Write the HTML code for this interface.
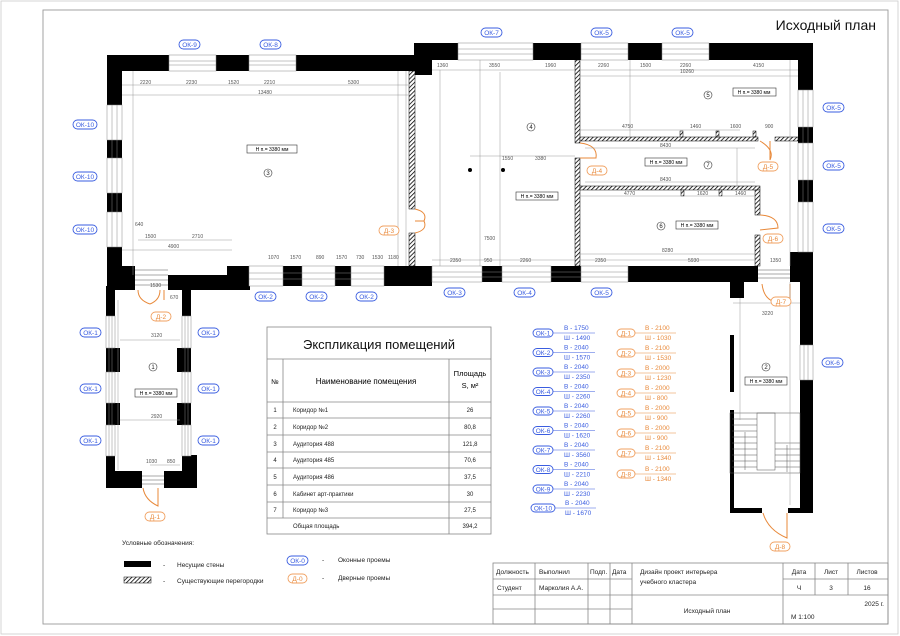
<!DOCTYPE html>
<html><head><meta charset="utf-8"><style>
html,body{margin:0;padding:0;background:#fff}
svg{display:block}
text{font-family:"Liberation Sans","DejaVu Sans",sans-serif}
.d{font-size:5px;fill:#555}
.dl{stroke:#999;stroke-width:.5;fill:none}
.ok{fill:#fff;stroke:#3a5de0;stroke-width:.9}
.okt{fill:#3a5de0;font-size:6.5px}
.dr{fill:#fff;stroke:#f0a060;stroke-width:.9}
.drt{fill:#e8893a;font-size:6.5px}
.w{fill:#fff;stroke:#888;stroke-width:.5}
.hb{fill:#fff;stroke:#333;stroke-width:.5}
.lbl{fill:#fff;stroke:#333;stroke-width:.6}
.door{fill:none;stroke:#e8893a;stroke-width:1}
.t{font-size:6px;fill:#222}
</style></head><body>
<svg width="900" height="636" viewBox="0 0 900 636" xmlns="http://www.w3.org/2000/svg">
<defs>
<pattern id="h" width="3" height="3" patternUnits="userSpaceOnUse" patternTransform="rotate(45)">
<rect width="3" height="3" fill="#fff"/><line x1="0" y1="0" x2="0" y2="3" stroke="#000" stroke-width="1.6"/></pattern>
</defs>
<rect x="1" y="1" width="897" height="633" fill="none" stroke="#ccc" stroke-width="0.8"/>
<rect x="43" y="10" width="845" height="614" fill="none" stroke="#999" stroke-width="0.9"/>
<text x="876" y="30" font-size="14" text-anchor="end" fill="#111">Исходный план</text>

<!-- WALLS -->
<g fill="#000">
<rect x="107" y="55" width="308" height="16"/>
<rect x="107" y="55" width="15" height="235"/>
<rect x="106" y="286" width="9" height="202"/>
<rect x="107" y="266" width="28" height="24"/>
<rect x="168" y="275" width="82" height="15"/>
<rect x="227" y="266" width="205" height="20"/>
<rect x="182" y="286" width="9" height="202"/>
<rect x="106" y="471" width="36" height="17"/>
<rect x="164" y="471" width="33" height="17"/>
<rect x="182" y="455" width="15" height="20"/>
<rect x="414" y="43" width="399" height="17"/>
<rect x="414" y="43" width="18" height="32"/>
<rect x="798" y="43" width="15" height="239"/>
<rect x="400" y="266" width="358" height="16"/>
<rect x="790" y="252" width="23" height="30"/>
<rect x="800" y="282" width="13" height="231"/>
<rect x="730" y="282" width="14" height="16"/>
<rect x="730" y="335" width="4" height="57"/>
<rect x="730" y="410" width="4" height="102"/>
<rect x="730" y="508" width="32" height="5"/>
<rect x="788" y="508" width="25" height="5"/>
<!-- piers in corridor 1 -->
<rect x="115" y="348" width="5" height="24"/><rect x="115" y="403" width="5" height="22"/>
<rect x="177" y="348" width="5" height="24"/><rect x="177" y="403" width="5" height="22"/>
</g>
<!-- WINDOWS -->
<g>
<rect class="w" x="169" y="55" width="47" height="16"/><rect class="w" x="249" y="55" width="47" height="16"/>
<rect class="w" x="107" y="105" width="15" height="35"/><rect class="w" x="107" y="158" width="15" height="35"/><rect class="w" x="107" y="212" width="15" height="35"/>
<rect class="w" x="106" y="316" width="9" height="32"/><rect class="w" x="106" y="372" width="9" height="31"/><rect class="w" x="106" y="425" width="9" height="31"/>
<rect class="w" x="182" y="316" width="9" height="32"/><rect class="w" x="182" y="372" width="9" height="31"/><rect class="w" x="182" y="425" width="9" height="31"/>
<rect class="w" x="249" y="266" width="34" height="20"/><rect class="w" x="302" y="266" width="33" height="20"/><rect class="w" x="351" y="266" width="33" height="20"/>
<rect class="w" x="458" y="43" width="75" height="17"/><rect class="w" x="581" y="43" width="47" height="17"/><rect class="w" x="662" y="43" width="47" height="17"/>
<rect class="w" x="798" y="90" width="15" height="37"/><rect class="w" x="798" y="143" width="15" height="37"/><rect class="w" x="798" y="202" width="15" height="50"/>
<rect class="w" x="432" y="266" width="50" height="16"/><rect class="w" x="502" y="266" width="49" height="16"/><rect class="w" x="581" y="266" width="47" height="16"/>
<rect class="w" x="800" y="345" width="13" height="35"/>
</g>
<g stroke="#888" stroke-width=".5">
<line x1="169" y1="61" x2="216" y2="61"/><line x1="169" y1="65" x2="216" y2="65"/>
<line x1="249" y1="61" x2="296" y2="61"/><line x1="249" y1="65" x2="296" y2="65"/>
<line x1="458" y1="49" x2="533" y2="49"/><line x1="458" y1="54" x2="533" y2="54"/>
<line x1="581" y1="49" x2="628" y2="49"/><line x1="581" y1="54" x2="628" y2="54"/>
<line x1="662" y1="49" x2="709" y2="49"/><line x1="662" y1="54" x2="709" y2="54"/>
<line x1="249" y1="273" x2="384" y2="273"/><line x1="249" y1="279" x2="384" y2="279"/>
<line x1="432" y1="272" x2="628" y2="272"/><line x1="432" y1="277" x2="628" y2="277"/>
<line x1="112" y1="105" x2="112" y2="247"/><line x1="117" y1="105" x2="117" y2="247"/>
<line x1="803" y1="90" x2="803" y2="252"/><line x1="808" y1="90" x2="808" y2="252"/>
<line x1="109" y1="316" x2="109" y2="456"/><line x1="112" y1="316" x2="112" y2="456"/>
<line x1="185" y1="316" x2="185" y2="456"/><line x1="188" y1="316" x2="188" y2="456"/>
<line x1="804" y1="345" x2="804" y2="380"/><line x1="808" y1="345" x2="808" y2="380"/>
</g>
<!-- stair openings -->
<g stroke="#555" stroke-width=".5" fill="none">
<path d="M135 270H168M135 275H168M135 280H168M135 285H168"/>
<path d="M142 476H164M142 480H164M142 484H164"/>
<path d="M758 270H790M758 274H790M758 278H790"/>
<rect x="730" y="413" width="70" height="60"/>
<path d="M732 419H757M732 425H757M732 431H757M732 437H757M732 443H757M732 449H757M732 455H757M732 461H757M732 467H757"/>
<rect x="757" y="413" width="18" height="57"/>
<path d="M775 443H800M775 449H800M775 455H800M775 461H800M775 467H800"/>
<line x1="787" y1="445" x2="787" y2="472"/><line x1="745" y1="432" x2="745" y2="470"/>
</g>
<!-- PARTITIONS hatched -->
<g fill="url(#h)" stroke="#000" stroke-width=".5">
<rect x="409" y="71" width="6" height="138"/><rect x="409" y="233" width="6" height="33"/>
<rect x="575" y="60" width="5" height="83"/><rect x="575" y="158" width="5" height="108"/>
<rect x="580" y="137" width="178" height="4"/><rect x="775" y="137" width="23" height="4"/>
<rect x="580" y="186" width="180" height="4"/>
<rect x="755" y="190" width="5" height="25"/><rect x="755" y="235" width="5" height="31"/>
<rect x="680" y="131" width="3" height="6"/><rect x="716" y="131" width="3" height="6"/><rect x="753" y="131" width="3" height="6"/>
<rect x="681" y="190" width="3" height="6"/><rect x="719" y="190" width="3" height="6"/>
</g>
<!-- DOORS -->
<g class="door">
<path d="M415 209 Q428 212 424 221 Q428 230 415 233 M424 221 L415 221"/>
<path d="M580 143 Q598 145 596 158 L580 158"/>
<path d="M760 141 Q775 150 770 160 M770 160 L770 141"/>
<path d="M760 215 Q778 216 778 228 L760 230"/>
<path d="M762 284 Q764 300 776 302 M776 302 L790 302 L790 284"/>
<path d="M138 290 Q138 300 150 304 M150 304 Q160 300 160 290 M164 290 L164 300"/>
<path d="M143 488 Q145 500 158 506 L158 488"/>
<path d="M763 513 Q768 530 787 538 L787 513"/>
</g>
<!-- DIMENSIONS -->
<g class="dl">
<path d="M122 85H408M122 95H408M133 71V275M138 240H232M122 250H232M406 71V266M398 71V266"/>
<path d="M432 70H575M440 70V266M480 60V266M500 72V266M470 156H575M432 260H575"/>
<path d="M580 70H798M580 76H798M580 130H740M585 148H755M585 182H755M580 196H755M580 254H755M580 260H755M630 60V137M737 148V186M790 60V266"/>
<path d="M733 303H800M740 298V420M790 282V505"/>
<path d="M118 300V470M120 340H180M120 420H180M150 465H180"/>
</g>
<g fill="#000"><circle cx="470" cy="170" r="2"/><circle cx="503" cy="170" r="2"/></g>
<g class="d">
<text x="140" y="84">2220</text><text x="186" y="84">2230</text><text x="228" y="84">1520</text><text x="264" y="84">2210</text><text x="348" y="84">5300</text>
<text x="258" y="94">13480</text><text x="145" y="238">1500</text><text x="192" y="238">2710</text><text x="168" y="248">4900</text><text x="135" y="226">640</text>
<text x="268" y="259">1070</text><text x="290" y="259">1570</text><text x="316" y="259">890</text><text x="336" y="259">1570</text><text x="356" y="259">730</text><text x="372" y="259">1530</text><text x="388" y="259">1180</text>
<text x="437" y="67">1360</text><text x="489" y="67">3550</text><text x="545" y="67">1960</text><text x="502" y="160">1550</text><text x="535" y="160">3380</text><text x="484" y="240">7500</text>
<text x="450" y="262">2350</text><text x="484" y="262">950</text><text x="520" y="262">2260</text>
<text x="598" y="67">2260</text><text x="640" y="67">1500</text><text x="680" y="67">2260</text><text x="753" y="67">4150</text><text x="680" y="73">10260</text>
<text x="622" y="128">4750</text><text x="690" y="128">1460</text><text x="730" y="128">1600</text><text x="765" y="128">900</text>
<text x="660" y="147">8430</text><text x="660" y="181">8430</text><text x="624" y="195">4770</text><text x="697" y="195">1620</text><text x="735" y="195">1460</text>
<text x="662" y="252">8280</text><text x="595" y="262">2350</text><text x="688" y="262">5930</text><text x="770" y="262">1350</text>
<text x="762" y="315">3220</text><text x="151" y="337">3120</text><text x="151" y="418">2920</text><text x="146" y="463">1030</text><text x="167" y="463">850</text>
<text x="150" y="287">1530</text><text x="170" y="299">670</text>
</g>
<!-- ROOM LABELS -->
<g>
<rect class="lbl" x="247" y="145" width="50" height="8"/><text x="272" y="151" font-size="5" text-anchor="middle">Н п.= 3380 мм</text>
<rect class="lbl" x="516" y="192" width="42" height="8"/><text x="537" y="198" font-size="5" text-anchor="middle">Н п.= 3380 мм</text>
<rect class="lbl" x="733" y="88" width="43" height="8"/><text x="754" y="94" font-size="5" text-anchor="middle">Н п.= 3380 мм</text>
<rect class="lbl" x="645" y="158" width="42" height="8"/><text x="666" y="164" font-size="5" text-anchor="middle">Н п.= 3380 мм</text>
<rect class="lbl" x="676" y="221" width="42" height="8"/><text x="697" y="227" font-size="5" text-anchor="middle">Н п.= 3380 мм</text>
<rect class="lbl" x="745" y="377" width="42" height="8"/><text x="766" y="383" font-size="5" text-anchor="middle">Н п.= 3380 мм</text>
<rect class="lbl" x="135" y="389" width="42" height="8"/><text x="156" y="395" font-size="5" text-anchor="middle">Н п.= 3380 мм</text>
</g>
<g fill="#fff" stroke="#333" stroke-width=".6">
<circle cx="268" cy="173" r="4"/><circle cx="531" cy="127" r="4"/><circle cx="708" cy="95" r="4"/><circle cx="708" cy="165" r="4"/><circle cx="661" cy="226" r="4"/><circle cx="766" cy="367" r="4"/><circle cx="153" cy="367" r="4"/>
</g>
<g font-size="6" text-anchor="middle" fill="#222">
<text x="268" y="175">3</text><text x="531" y="129">4</text><text x="708" y="97">5</text><text x="708" y="167">7</text><text x="661" y="228">6</text><text x="766" y="369">2</text><text x="153" y="369">1</text>
</g>
<!-- OK tags -->
<g>
<rect class="ok" x="179" y="40" width="21" height="9" rx="4.5"/><text class="okt" x="189.5" y="47" text-anchor="middle">ОК-9</text>
<rect class="ok" x="260" y="40" width="21" height="9" rx="4.5"/><text class="okt" x="270.5" y="47" text-anchor="middle">ОК-8</text>
<rect class="ok" x="481" y="28" width="21" height="9" rx="4.5"/><text class="okt" x="491.5" y="35" text-anchor="middle">ОК-7</text>
<rect class="ok" x="591" y="28" width="21" height="9" rx="4.5"/><text class="okt" x="601.5" y="35" text-anchor="middle">ОК-5</text>
<rect class="ok" x="672" y="28" width="21" height="9" rx="4.5"/><text class="okt" x="682.5" y="35" text-anchor="middle">ОК-5</text>
<rect class="ok" x="73" y="120" width="24" height="9" rx="4.5"/><text class="okt" x="85" y="127" text-anchor="middle">ОК-10</text>
<rect class="ok" x="73" y="172" width="24" height="9" rx="4.5"/><text class="okt" x="85" y="179" text-anchor="middle">ОК-10</text>
<rect class="ok" x="73" y="225" width="24" height="9" rx="4.5"/><text class="okt" x="85" y="232" text-anchor="middle">ОК-10</text>
<rect class="ok" x="823" y="103" width="21" height="9" rx="4.5"/><text class="okt" x="833.5" y="110" text-anchor="middle">ОК-5</text>
<rect class="ok" x="823" y="161" width="21" height="9" rx="4.5"/><text class="okt" x="833.5" y="168" text-anchor="middle">ОК-5</text>
<rect class="ok" x="823" y="224" width="21" height="9" rx="4.5"/><text class="okt" x="833.5" y="231" text-anchor="middle">ОК-5</text>
<rect class="ok" x="255" y="292" width="21" height="9" rx="4.5"/><text class="okt" x="265.5" y="299" text-anchor="middle">ОК-2</text>
<rect class="ok" x="306" y="292" width="21" height="9" rx="4.5"/><text class="okt" x="316.5" y="299" text-anchor="middle">ОК-2</text>
<rect class="ok" x="356" y="292" width="21" height="9" rx="4.5"/><text class="okt" x="366.5" y="299" text-anchor="middle">ОК-2</text>
<rect class="ok" x="444" y="288" width="21" height="9" rx="4.5"/><text class="okt" x="454.5" y="295" text-anchor="middle">ОК-3</text>
<rect class="ok" x="514" y="288" width="21" height="9" rx="4.5"/><text class="okt" x="524.5" y="295" text-anchor="middle">ОК-4</text>
<rect class="ok" x="591" y="288" width="21" height="9" rx="4.5"/><text class="okt" x="601.5" y="295" text-anchor="middle">ОК-5</text>
<rect class="ok" x="80" y="328" width="21" height="9" rx="4.5"/><text class="okt" x="90.5" y="335" text-anchor="middle">ОК-1</text>
<rect class="ok" x="80" y="384" width="21" height="9" rx="4.5"/><text class="okt" x="90.5" y="391" text-anchor="middle">ОК-1</text>
<rect class="ok" x="80" y="436" width="21" height="9" rx="4.5"/><text class="okt" x="90.5" y="443" text-anchor="middle">ОК-1</text>
<rect class="ok" x="198" y="328" width="21" height="9" rx="4.5"/><text class="okt" x="208.5" y="335" text-anchor="middle">ОК-1</text>
<rect class="ok" x="198" y="384" width="21" height="9" rx="4.5"/><text class="okt" x="208.5" y="391" text-anchor="middle">ОК-1</text>
<rect class="ok" x="198" y="436" width="21" height="9" rx="4.5"/><text class="okt" x="208.5" y="443" text-anchor="middle">ОК-1</text>
<rect class="ok" x="822" y="358" width="21" height="9" rx="4.5"/><text class="okt" x="832.5" y="365" text-anchor="middle">ОК-6</text>
</g>
<!-- Д tags -->
<g>
<rect class="dr" x="379" y="226" width="20" height="9" rx="4.5"/><text class="drt" x="389" y="233" text-anchor="middle">Д-3</text>
<rect class="dr" x="587" y="166" width="20" height="9" rx="4.5"/><text class="drt" x="597" y="173" text-anchor="middle">Д-4</text>
<rect class="dr" x="758" y="162" width="20" height="9" rx="4.5"/><text class="drt" x="768" y="169" text-anchor="middle">Д-5</text>
<rect class="dr" x="763" y="234" width="20" height="9" rx="4.5"/><text class="drt" x="773" y="241" text-anchor="middle">Д-6</text>
<rect class="dr" x="771" y="297" width="20" height="9" rx="4.5"/><text class="drt" x="781" y="304" text-anchor="middle">Д-7</text>
<rect class="dr" x="151" y="312" width="20" height="9" rx="4.5"/><text class="drt" x="161" y="319" text-anchor="middle">Д-2</text>
<rect class="dr" x="145" y="512" width="20" height="9" rx="4.5"/><text class="drt" x="155" y="519" text-anchor="middle">Д-1</text>
<rect class="dr" x="770" y="542" width="20" height="9" rx="4.5"/><text class="drt" x="780" y="549" text-anchor="middle">Д-8</text>
</g>

<!-- EXPLICATION TABLE -->
<g stroke="#888" stroke-width=".8" fill="none">
<rect x="267" y="327" width="224" height="207"/>
<path d="M267 359H491M267 402H491M267 418H491M267 435H491M267 452H491M267 468H491M267 485H491M267 502H491M267 518H491M283 359V518M449 359V534"/>
</g>
<text x="379" y="349" font-size="13" text-anchor="middle" fill="#111">Экспликация помещений</text>
<text x="275" y="384" font-size="7" text-anchor="middle">№</text>
<text x="366" y="384" font-size="8" text-anchor="middle">Наименование помещения</text>
<text x="470" y="376" font-size="7.5" text-anchor="middle">Площадь</text>
<text x="470" y="388" font-size="7.5" text-anchor="middle">S, м²</text>
<g class="t">
<text x="275" y="412" text-anchor="middle">1</text><text x="293" y="412">Коридор №1</text><text x="470" y="412" text-anchor="middle">26</text>
<text x="275" y="429" text-anchor="middle">2</text><text x="293" y="429">Коридор №2</text><text x="470" y="429" text-anchor="middle">80,8</text>
<text x="275" y="446" text-anchor="middle">3</text><text x="293" y="446">Аудитория 488</text><text x="470" y="446" text-anchor="middle">121,8</text>
<text x="275" y="462" text-anchor="middle">4</text><text x="293" y="462">Аудитория 485</text><text x="470" y="462" text-anchor="middle">70,6</text>
<text x="275" y="479" text-anchor="middle">5</text><text x="293" y="479">Аудитория 486</text><text x="470" y="479" text-anchor="middle">37,5</text>
<text x="275" y="496" text-anchor="middle">6</text><text x="293" y="496">Кабинет арт-практики</text><text x="470" y="496" text-anchor="middle">30</text>
<text x="275" y="512" text-anchor="middle">7</text><text x="293" y="512">Коридор №3</text><text x="470" y="512" text-anchor="middle">27,5</text>
<text x="293" y="528">Общая площадь</text><text x="470" y="528" text-anchor="middle">394,2</text>
</g>

<!-- OPENINGS LEGEND -->
<g font-size="6.5">
<g fill="#3a5de0">
<g><rect class="ok" x="533" y="329" width="20" height="8" rx="4"/><text x="543" y="335.5" text-anchor="middle">ОК-1</text><line x1="553" y1="333" x2="595" y2="333" stroke="#3a5de0" stroke-width=".6"/><text x="564" y="330">В - 1750</text><text x="564" y="340">Ш - 1490</text></g>
<g transform="translate(0,19.5)"><rect class="ok" x="533" y="329" width="20" height="8" rx="4"/><text x="543" y="335.5" text-anchor="middle">ОК-2</text><line x1="553" y1="333" x2="595" y2="333" stroke="#3a5de0" stroke-width=".6"/><text x="564" y="330">В - 2040</text><text x="564" y="340">Ш - 1570</text></g>
<g transform="translate(0,39)"><rect class="ok" x="533" y="329" width="20" height="8" rx="4"/><text x="543" y="335.5" text-anchor="middle">ОК-3</text><line x1="553" y1="333" x2="595" y2="333" stroke="#3a5de0" stroke-width=".6"/><text x="564" y="330">В - 2040</text><text x="564" y="340">Ш - 2350</text></g>
<g transform="translate(0,58.5)"><rect class="ok" x="533" y="329" width="20" height="8" rx="4"/><text x="543" y="335.5" text-anchor="middle">ОК-4</text><line x1="553" y1="333" x2="595" y2="333" stroke="#3a5de0" stroke-width=".6"/><text x="564" y="330">В - 2040</text><text x="564" y="340">Ш - 2260</text></g>
<g transform="translate(0,78)"><rect class="ok" x="533" y="329" width="20" height="8" rx="4"/><text x="543" y="335.5" text-anchor="middle">ОК-5</text><line x1="553" y1="333" x2="595" y2="333" stroke="#3a5de0" stroke-width=".6"/><text x="564" y="330">В - 2040</text><text x="564" y="340">Ш - 2260</text></g>
<g transform="translate(0,97.5)"><rect class="ok" x="533" y="329" width="20" height="8" rx="4"/><text x="543" y="335.5" text-anchor="middle">ОК-6</text><line x1="553" y1="333" x2="595" y2="333" stroke="#3a5de0" stroke-width=".6"/><text x="564" y="330">В - 2040</text><text x="564" y="340">Ш - 1620</text></g>
<g transform="translate(0,117)"><rect class="ok" x="533" y="329" width="20" height="8" rx="4"/><text x="543" y="335.5" text-anchor="middle">ОК-7</text><line x1="553" y1="333" x2="595" y2="333" stroke="#3a5de0" stroke-width=".6"/><text x="564" y="330">В - 2040</text><text x="564" y="340">Ш - 3560</text></g>
<g transform="translate(0,136.5)"><rect class="ok" x="533" y="329" width="20" height="8" rx="4"/><text x="543" y="335.5" text-anchor="middle">ОК-8</text><line x1="553" y1="333" x2="595" y2="333" stroke="#3a5de0" stroke-width=".6"/><text x="564" y="330">В - 2040</text><text x="564" y="340">Ш - 2210</text></g>
<g transform="translate(0,156)"><rect class="ok" x="533" y="329" width="20" height="8" rx="4"/><text x="543" y="335.5" text-anchor="middle">ОК-9</text><line x1="553" y1="333" x2="595" y2="333" stroke="#3a5de0" stroke-width=".6"/><text x="564" y="330">В - 2040</text><text x="564" y="340">Ш - 2230</text></g>
<g transform="translate(0,175)"><rect class="ok" x="531" y="329" width="24" height="8" rx="4"/><text x="543" y="335.5" text-anchor="middle">ОК-10</text><line x1="555" y1="333" x2="596" y2="333" stroke="#3a5de0" stroke-width=".6"/><text x="565" y="330">В - 2040</text><text x="565" y="340">Ш - 1670</text></g>
</g>
<g fill="#e8893a">
<g><rect class="dr" x="617" y="329" width="18" height="8" rx="4"/><text x="626" y="335.5" text-anchor="middle">Д-1</text><line x1="635" y1="333" x2="676" y2="333" stroke="#e8893a" stroke-width=".6"/><text x="645" y="330">В - 2100</text><text x="645" y="340">Ш - 1030</text></g>
<g transform="translate(0,20)"><rect class="dr" x="617" y="329" width="18" height="8" rx="4"/><text x="626" y="335.5" text-anchor="middle">Д-2</text><line x1="635" y1="333" x2="676" y2="333" stroke="#e8893a" stroke-width=".6"/><text x="645" y="330">В - 2100</text><text x="645" y="340">Ш - 1530</text></g>
<g transform="translate(0,40)"><rect class="dr" x="617" y="329" width="18" height="8" rx="4"/><text x="626" y="335.5" text-anchor="middle">Д-3</text><line x1="635" y1="333" x2="676" y2="333" stroke="#e8893a" stroke-width=".6"/><text x="645" y="330">В - 2000</text><text x="645" y="340">Ш - 1230</text></g>
<g transform="translate(0,60)"><rect class="dr" x="617" y="329" width="18" height="8" rx="4"/><text x="626" y="335.5" text-anchor="middle">Д-4</text><line x1="635" y1="333" x2="676" y2="333" stroke="#e8893a" stroke-width=".6"/><text x="645" y="330">В - 2000</text><text x="645" y="340">Ш - 800</text></g>
<g transform="translate(0,80)"><rect class="dr" x="617" y="329" width="18" height="8" rx="4"/><text x="626" y="335.5" text-anchor="middle">Д-5</text><line x1="635" y1="333" x2="676" y2="333" stroke="#e8893a" stroke-width=".6"/><text x="645" y="330">В - 2000</text><text x="645" y="340">Ш - 900</text></g>
<g transform="translate(0,100)"><rect class="dr" x="617" y="329" width="18" height="8" rx="4"/><text x="626" y="335.5" text-anchor="middle">Д-6</text><line x1="635" y1="333" x2="676" y2="333" stroke="#e8893a" stroke-width=".6"/><text x="645" y="330">В - 2000</text><text x="645" y="340">Ш - 900</text></g>
<g transform="translate(0,120)"><rect class="dr" x="617" y="329" width="18" height="8" rx="4"/><text x="626" y="335.5" text-anchor="middle">Д-7</text><line x1="635" y1="333" x2="676" y2="333" stroke="#e8893a" stroke-width=".6"/><text x="645" y="330">В - 2100</text><text x="645" y="340">Ш - 1340</text></g>
<g transform="translate(0,141)"><rect class="dr" x="617" y="329" width="18" height="8" rx="4"/><text x="626" y="335.5" text-anchor="middle">Д-8</text><line x1="635" y1="333" x2="676" y2="333" stroke="#e8893a" stroke-width=".6"/><text x="645" y="330">В - 2100</text><text x="645" y="340">Ш - 1340</text></g>
</g>
</g>

<!-- SYMBOL LEGEND -->
<text x="122" y="545" font-size="6.5" fill="#222">Условные обозначения:</text>
<rect x="124" y="561" width="27" height="6" fill="#000"/>
<rect x="124" y="577" width="27" height="6" fill="url(#h)" stroke="#000" stroke-width=".5"/>
<g font-size="6.5" fill="#222">
<text x="163" y="567">-</text><text x="177" y="567">Несущие стены</text>
<text x="163" y="583">-</text><text x="177" y="583">Существующие перегородки</text>
<text x="322" y="562">-</text><text x="338" y="562">Оконные проемы</text>
<text x="322" y="580">-</text><text x="338" y="580">Дверные проемы</text>
</g>
<rect class="ok" x="287" y="556" width="21" height="9" rx="4.5"/><text class="okt" x="297.5" y="563" text-anchor="middle">ОК-0</text>
<rect class="dr" x="288" y="574" width="19" height="9" rx="4.5"/><text class="drt" x="297.5" y="581" text-anchor="middle">Д-0</text>

<!-- TITLE BLOCK -->
<g stroke="#888" stroke-width=".8" fill="none">
<rect x="493" y="563" width="395" height="61"/>
<path d="M493 579H632M493 595H888M493 609H632M535 563V624M588 563V624M610 563V624M632 563V624M783 563V624M815 563V595M848 563V595M783 579H888"/>
</g>
<g font-size="6.5" fill="#222">
<text x="496" y="574">Должность</text><text x="539" y="574">Выполнил</text><text x="590" y="574">Подп.</text><text x="612" y="574">Дата</text>
<text x="497" y="590">Студент</text><text x="539" y="590">Марколия А.А.</text>
<text x="640" y="574">Дизайн проект интерьера</text><text x="640" y="584">учебного кластера</text>
<text x="799" y="574" text-anchor="middle">Дата</text><text x="831" y="574" text-anchor="middle">Лист</text><text x="867" y="574" text-anchor="middle">Листов</text>
<text x="799" y="590" text-anchor="middle">Ч</text><text x="831" y="590" text-anchor="middle">3</text><text x="867" y="590" text-anchor="middle">16</text>
<text x="707" y="613" text-anchor="middle">Исходный план</text>
<text x="884" y="606" text-anchor="end">2025 г.</text>
<text x="791" y="619">М 1:100</text>
</g>
</svg>
</body></html>
